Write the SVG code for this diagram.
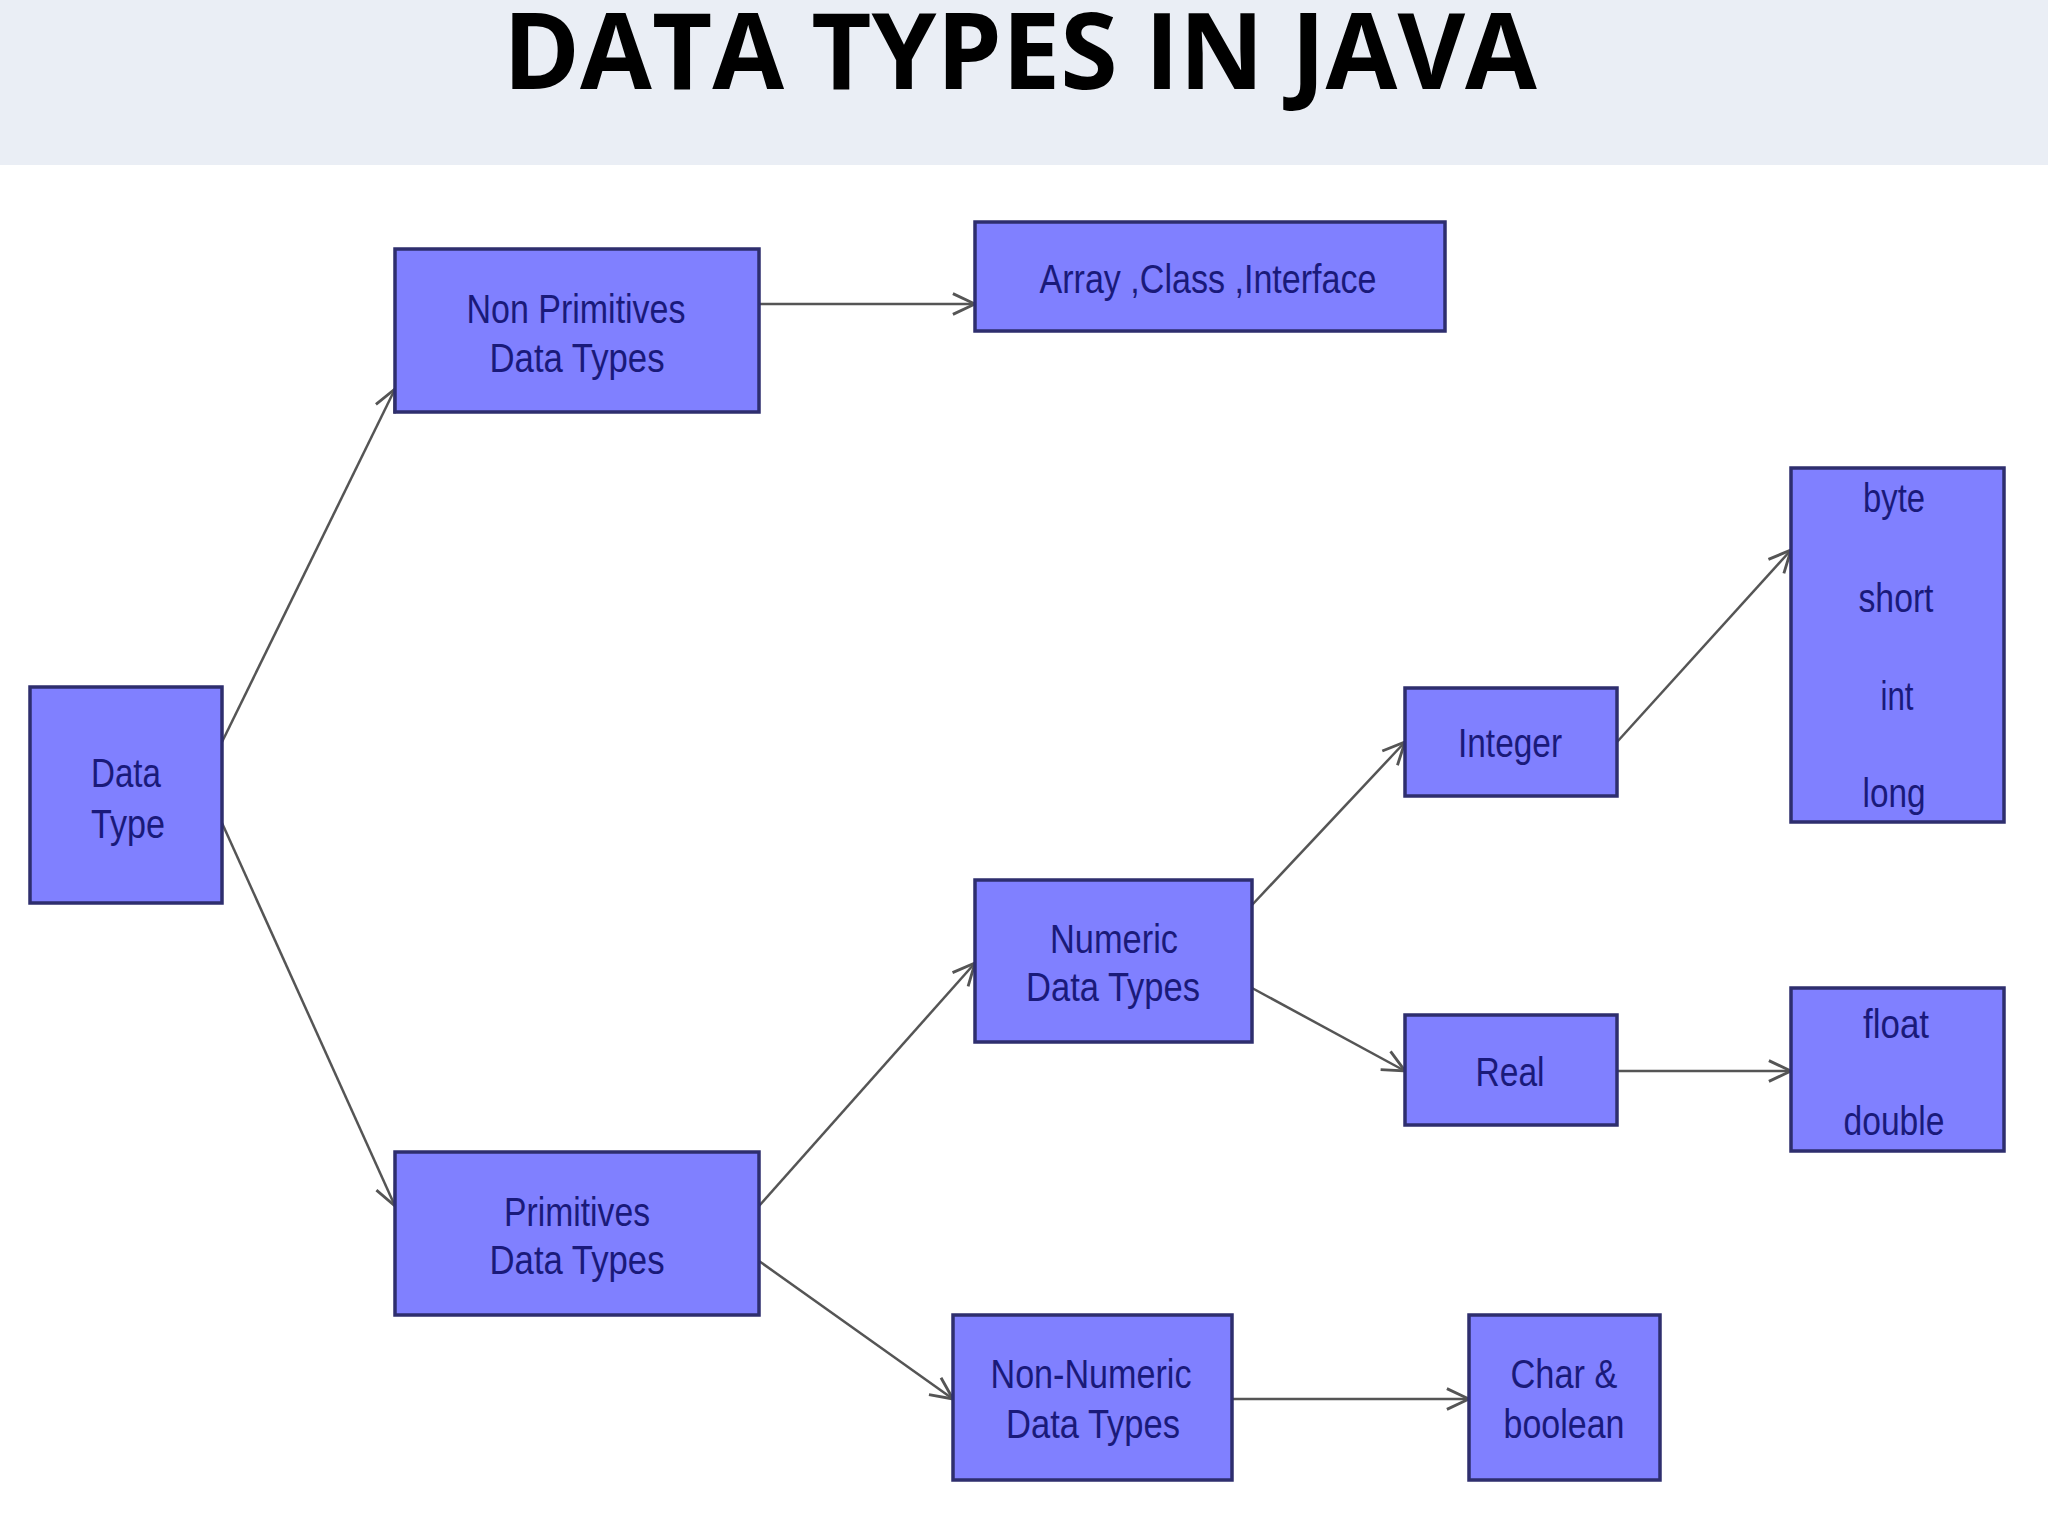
<svg xmlns="http://www.w3.org/2000/svg" width="2048" height="1536" viewBox="0 0 2048 1536">
<style>
.box{fill:#8080FF;stroke:#2E2E6E;stroke-width:3.5}
.lbl{font-family:"Liberation Sans",Arial,sans-serif;font-size:40px;fill:#1A1A7A;text-anchor:middle}
.title{font-family:"Open Sans","Liberation Sans",sans-serif;font-weight:bold;font-size:106px;fill:#000;text-anchor:middle}
.edge{stroke:#555;stroke-width:2.5;fill:none;marker-end:url(#arr)}
</style>
<defs>
<marker id="arr" viewBox="0 0 20 20" refX="19" refY="10" markerWidth="26" markerHeight="26" markerUnits="userSpaceOnUse" orient="auto">
<path d="M2,2 L19,10 L2,18" fill="none" stroke="#555" stroke-width="2.2"/>
</marker>
</defs>
<rect x="0" y="0" width="2048" height="1536" fill="#FFFFFF"/>
<rect x="0" y="0" width="2048" height="165" fill="#EAEEF5"/>
<text class="title" x="1020" y="89" textLength="1034" lengthAdjust="spacingAndGlyphs">DATA TYPES IN JAVA</text>

<g id="connectors">
<line class="edge" x1="222" y1="742" x2="395" y2="389"/>
<line class="edge" x1="222" y1="823" x2="395" y2="1206"/>
<line class="edge" x1="759" y1="304" x2="975" y2="304"/>
<line class="edge" x1="759" y1="1206" x2="975" y2="963"/>
<line class="edge" x1="759" y1="1261" x2="953" y2="1399"/>
<line class="edge" x1="1252" y1="905" x2="1405" y2="742"/>
<line class="edge" x1="1252" y1="988" x2="1405" y2="1071"/>
<line class="edge" x1="1617" y1="742" x2="1791" y2="550"/>
<line class="edge" x1="1617" y1="1071" x2="1791" y2="1071"/>
<line class="edge" x1="1232" y1="1399" x2="1469" y2="1399"/>
</g>

<g id="node-datatype">
<rect class="box" x="30" y="687" width="192" height="216"/>
<text class="lbl" x="126" y="787" textLength="70" lengthAdjust="spacingAndGlyphs">Data</text>
<text class="lbl" x="128" y="838" textLength="74" lengthAdjust="spacingAndGlyphs">Type</text>
</g>

<g id="node-nonprimitives">
<rect class="box" x="395" y="249" width="364" height="163"/>
<text class="lbl" x="576" y="323" textLength="219" lengthAdjust="spacingAndGlyphs">Non Primitives</text>
<text class="lbl" x="577" y="372" textLength="175" lengthAdjust="spacingAndGlyphs">Data Types</text>
</g>

<g id="node-arrayclass">
<rect class="box" x="975" y="222" width="470" height="109"/>
<text class="lbl" x="1208" y="293" textLength="337" lengthAdjust="spacingAndGlyphs">Array ,Class ,Interface</text>
</g>

<g id="node-primitives">
<rect class="box" x="395" y="1152" width="364" height="163"/>
<text class="lbl" x="577" y="1226" textLength="146" lengthAdjust="spacingAndGlyphs">Primitives</text>
<text class="lbl" x="577" y="1274" textLength="175" lengthAdjust="spacingAndGlyphs">Data Types</text>
</g>

<g id="node-numeric">
<rect class="box" x="975" y="880" width="277" height="162"/>
<text class="lbl" x="1114" y="953" textLength="128" lengthAdjust="spacingAndGlyphs">Numeric</text>
<text class="lbl" x="1113" y="1001" textLength="174" lengthAdjust="spacingAndGlyphs">Data Types</text>
</g>

<g id="node-nonnumeric">
<rect class="box" x="953" y="1315" width="279" height="165"/>
<text class="lbl" x="1091" y="1388" textLength="201" lengthAdjust="spacingAndGlyphs">Non-Numeric</text>
<text class="lbl" x="1093" y="1438" textLength="174" lengthAdjust="spacingAndGlyphs">Data Types</text>
</g>

<g id="node-integer">
<rect class="box" x="1405" y="688" width="212" height="108"/>
<text class="lbl" x="1510" y="757" textLength="104" lengthAdjust="spacingAndGlyphs">Integer</text>
</g>

<g id="node-real">
<rect class="box" x="1405" y="1015" width="212" height="110"/>
<text class="lbl" x="1510" y="1086" textLength="69" lengthAdjust="spacingAndGlyphs">Real</text>
</g>

<g id="node-integertypes">
<rect class="box" x="1791" y="468" width="213" height="354"/>
<text class="lbl" x="1894" y="512" textLength="62" lengthAdjust="spacingAndGlyphs">byte</text>
<text class="lbl" x="1896" y="612" textLength="75" lengthAdjust="spacingAndGlyphs">short</text>
<text class="lbl" x="1897" y="710" textLength="33" lengthAdjust="spacingAndGlyphs">int</text>
<text class="lbl" x="1894" y="807" textLength="63" lengthAdjust="spacingAndGlyphs">long</text>
</g>

<g id="node-realtypes">
<rect class="box" x="1791" y="988" width="213" height="163"/>
<text class="lbl" x="1896" y="1038" textLength="66" lengthAdjust="spacingAndGlyphs">float</text>
<text class="lbl" x="1894" y="1135" textLength="101" lengthAdjust="spacingAndGlyphs">double</text>
</g>

<g id="node-charboolean">
<rect class="box" x="1469" y="1315" width="191" height="165"/>
<text class="lbl" x="1564" y="1388" textLength="107" lengthAdjust="spacingAndGlyphs">Char &amp;</text>
<text class="lbl" x="1564" y="1438" textLength="121" lengthAdjust="spacingAndGlyphs">boolean</text>
</g>
</svg>
